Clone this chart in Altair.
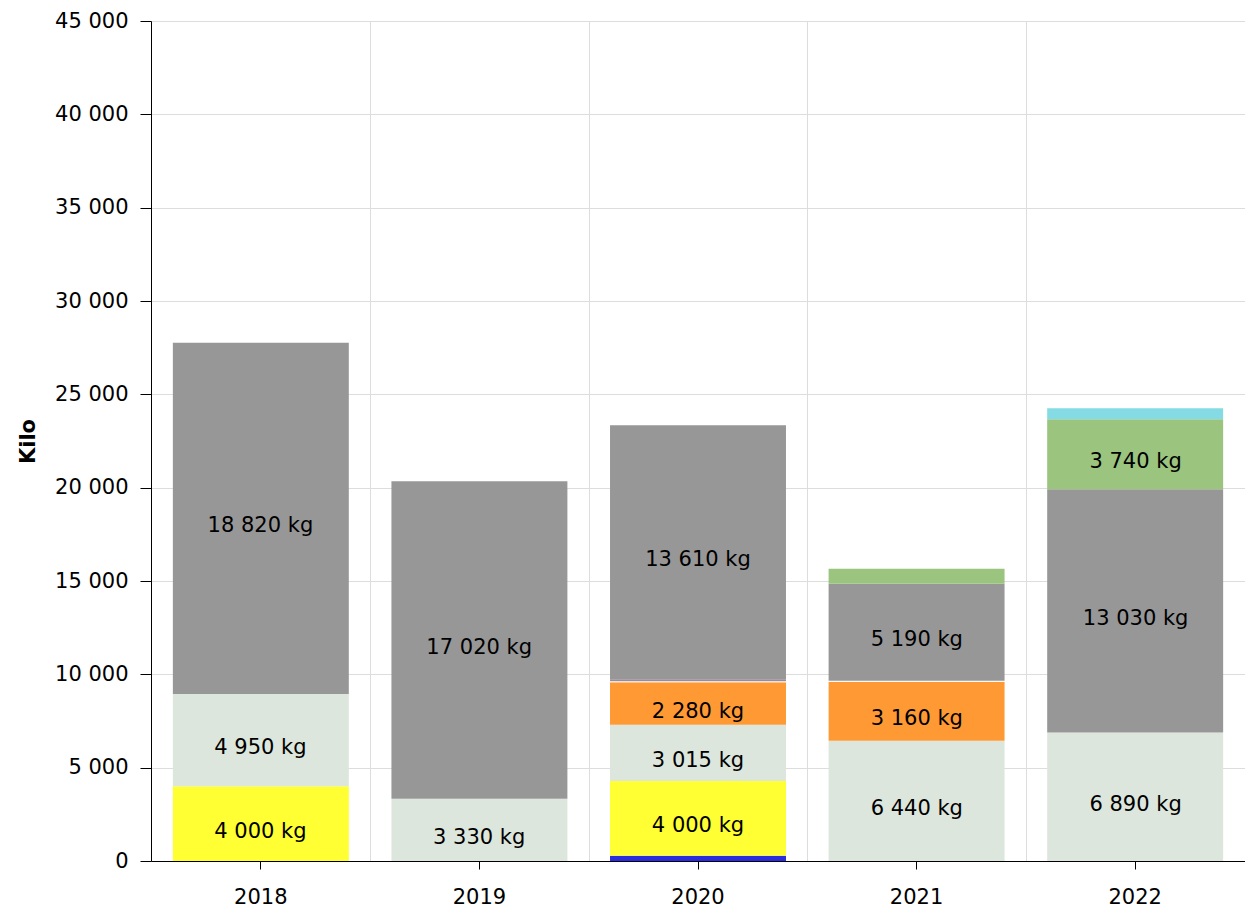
import altair as alt
import pandas as pd

years = ["2018", "2019", "2020", "2021", "2022"]

series_names = ["blue", "yellow", "light", "orange", "white", "mauve", "gray", "green", "cyan"]
series_colors = ["#2b2be0", "#ffff33", "#dce6dc", "#ff9933", "#ffffff", "#9d8a95", "#979797", "#9bc47f", "#85dbe3"]

blue = [0, 0, 280, 0, 0]
yellow = [4000, 0, 4000, 0, 0]
light = [4950, 3330, 3015, 6440, 6890]
orange = [0, 0, 2280, 3160, 0]
white = [0, 0, 60, 60, 0]
mauve = [0, 0, 100, 0, 0]
gray = [18820, 17020, 13610, 5190, 13030]
green = [0, 0, 0, 800, 3740]
cyan = [0, 0, 0, 0, 600]

series_values = [blue, yellow, light, orange, white, mauve, gray, green, cyan]

rows = []
for i, (name, vals) in enumerate(zip(series_names, series_values)):
    for yr, v in zip(years, vals):
        if v > 0:
            lbl = (f"{v:,}".replace(",", " ") + " kg") if v >= 2000 else ""
            rows.append({"year": yr, "series": name, "order": i, "value": v, "label": lbl})
df = pd.DataFrame(rows)

FONT = "DejaVu Sans"
FS = 21

xscale = alt.Scale(domain=years, paddingInner=0.195, paddingOuter=0.1)
gridscale = alt.Scale(domain=years, paddingInner=0, paddingOuter=0)
yscale = alt.Scale(domain=[0, 45000], nice=False)
color_scale = alt.Scale(domain=series_names, range=series_colors)

yaxis = alt.Axis(
    title="Kilo", values=list(range(0, 45001, 5000)),
    labelExpr="replace(format(datum.value, ','), ',', ' ')",
    grid=True, gridColor="#dddddd", domainColor="black", tickColor="black",
    tickSize=11, labelPadding=12, labelFontSize=FS, labelFont=FONT, labelColor="black",
    titleFont=FONT, titleFontSize=FS, titleFontWeight="bold", titleColor="black",
    titlePadding=16,
)

base = alt.Chart(df)

grid_layer = base.mark_bar(opacity=0).encode(
    x=alt.X("year:N", scale=gridscale, axis=alt.Axis(
        orient="bottom", tickBand="extent", grid=True, gridColor="#dddddd", labels=False,
        ticks=False, domain=False, title=None)),
    y=alt.Y("sum(value):Q", scale=yscale, axis=yaxis),
)

bars = base.mark_bar().encode(
    x=alt.X("year:N", scale=xscale, axis=alt.Axis(
        orient="bottom", title=None, grid=False, domainColor="black", tickColor="black", tickSize=8,
        labelAngle=0, labelFontSize=FS, labelFont=FONT, labelColor="black", labelPadding=17)),
    y=alt.Y("value:Q", stack="zero", scale=yscale, axis=yaxis),
    color=alt.Color("series:N", scale=color_scale, legend=None),
    order=alt.Order("order:Q", sort="ascending"),
)

text = base.transform_stack(
    stack="value", as_=["v0", "v1"], groupby=["year"],
    sort=[alt.SortField("order", order="ascending")],
).transform_calculate(mid="(datum.v0 + datum.v1) / 2").mark_text(
    font=FONT, fontSize=FS, color="black", baseline="middle", dy=8
).encode(
    x=alt.X("year:N", scale=xscale, axis=None),
    y=alt.Y("mid:Q", scale=yscale, axis=yaxis),
    text="label:N",
)

chart = alt.layer(grid_layer, bars, text).resolve_scale(x="independent").resolve_axis(x="independent").properties(
    width=1094, height=840,
    autosize=alt.AutoSizeParams(type="none"),
    padding={"left": 143, "top": 13, "right": 0, "bottom": 52},
).configure_view(stroke=None)

chart.save("out.html", embed_options={"renderer": "svg", "actions": False})
